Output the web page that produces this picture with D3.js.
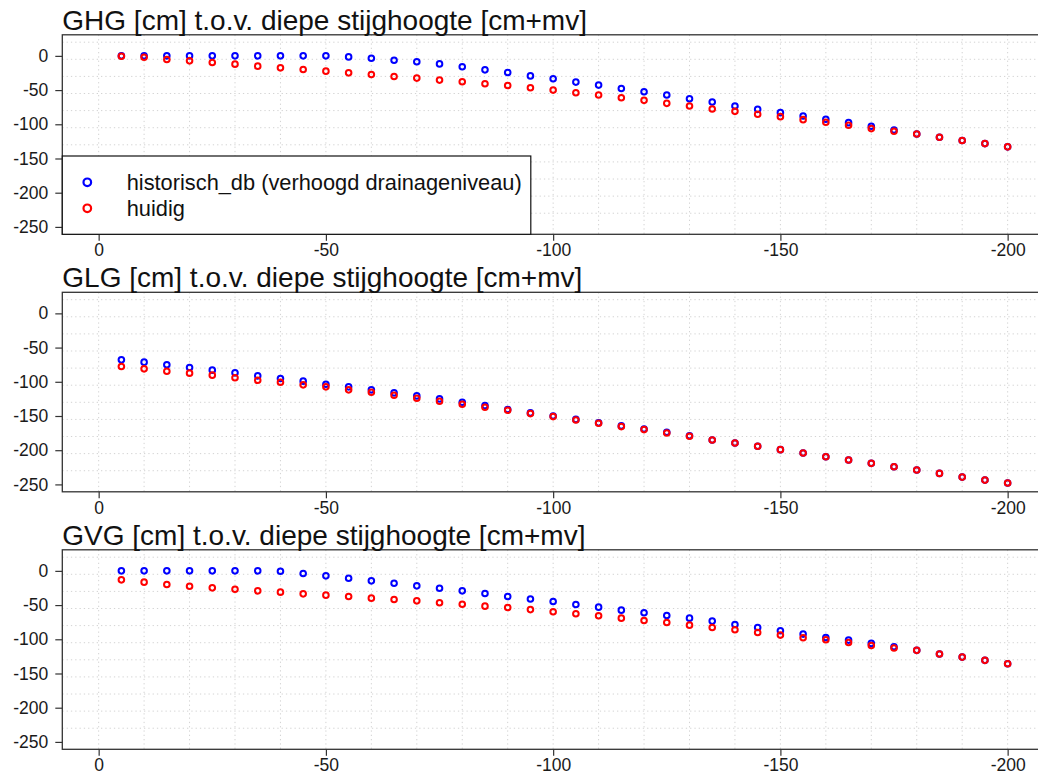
<!DOCTYPE html>
<html>
<head>
<meta charset="utf-8">
<script src="https://cdn.jsdelivr.net/npm/d3@7"></script>
<style>
  html, body { margin: 0; padding: 0; background: #fff; }
  svg { display: block; font-family: "Liberation Sans", Arial, sans-serif; }
</style>
</head>
<body>
<svg id="chart" width="1038" height="776"></svg>
<script>
// Depth of drainage level (cm), one point per 5 cm
const depths = [-5, -10, -15, -20, -25, -30, -35, -40, -45, -50,
  -55, -60, -65, -70, -75, -80, -85, -90, -95, -100,
  -105, -110, -115, -120, -125, -130, -135, -140, -145, -150,
  -155, -160, -165, -170, -175, -180, -185, -190, -195, -200];

const panelTitles = [
  "GHG [cm] t.o.v. diepe stijghoogte [cm+mv]",
  "GLG [cm] t.o.v. diepe stijghoogte [cm+mv]",
  "GVG [cm] t.o.v. diepe stijghoogte [cm+mv]"
];

const seriesNames = ["historisch_db (verhoogd drainageniveau)", "huidig"];

// GHG
const ghgHistorisch = [0, 0, 0, 0, 0, 0, 0, 0, 0, 0,
  -1.5, -3.4, -6.3, -8.7, -11.7, -16, -20.4, -24.3, -29.3, -33.5,
  -38.3, -42.7, -47.6, -52.4, -57.3, -62.6, -67.5, -73.3, -78.2, -83,
  -87.9, -92.7, -97.6, -102.9, -108.3, -114.1, -118.9, -123.8, -128.2, -133];
const ghgHuidig = [-0.5, -2, -5.3, -7.3, -9.7, -12.1, -15, -17.5, -20, -22.3,
  -24.8, -27.2, -30.1, -32.5, -35.4, -37.9, -40.8, -43.2, -46.6, -50,
  -53.9, -57.3, -61.2, -65, -69.4, -73.3, -77.7, -81.1, -85.4, -88.8,
  -93.2, -97.1, -101.5, -106.3, -110.2, -114.1, -118.9, -123.8, -128.2, -133];

// GLG
const glgHistorisch = [-67.9, -71.3, -75.2, -79.1, -83, -86.9, -91.3, -95.2, -99.1, -103.5,
  -107.4, -111.8, -116.2, -120.6, -125, -129.9, -134.8, -140.5, -145.5, -150,
  -155, -160, -164.5, -169, -173.8, -178.8, -185, -189.5, -194.3, -199.2,
  -204.1, -209.5, -214.4, -219.2, -224.1, -229, -233.9, -239.3, -243.7, -248];
const glgHuidig = [-77.6, -81.1, -84.5, -87.4, -90.3, -94.2, -97.7, -100.6, -104.5, -107.4,
  -111.8, -115.2, -119.6, -124, -128.4, -132.8, -137.2, -141.6, -146.5, -150.9,
  -155.8, -160.6, -165.5, -169.9, -174.8, -179.7, -185, -189.5, -194.3, -199.2,
  -204.1, -209.5, -214.4, -219.2, -224.1, -229, -233.9, -239.3, -243.7, -248];

// GVG
const gvgHistorisch = [0, 0, 0, 0, 0, 0, 0, -0.5, -3.9, -7.3,
  -10.7, -14.6, -18, -21.9, -25.3, -29.2, -33.1, -37.5, -41.1, -44.7,
  -49.1, -53, -57.4, -61.3, -65.2, -69.1, -73.4, -78.3, -82.7, -87.5,
  -92.4, -97.3, -101.2, -106, -110.9, -116.2, -121.6, -126, -130.8, -135.7];
const gvgHuidig = [-13.1, -16.5, -19.9, -22.4, -24.8, -26.8, -29.2, -31.1, -33.6, -35.5,
  -37.5, -39.9, -41.8, -43.8, -46.7, -48.7, -51.6, -53.6, -56.6, -59.8,
  -62.7, -65.7, -69.1, -72.5, -75.4, -79.3, -82.7, -86.1, -90, -93.9,
  -97.8, -100.7, -104.6, -109, -112.8, -116.2, -121.6, -126, -130.8, -135.7];

const xTicks = [0, -50, -100, -150, -200];
const yTicks = [0, -50, -100, -150, -200, -250];
const xGrid = [0, -10, -20, -30, -40, -50, -60, -70, -80, -90, -100,
  -110, -120, -130, -140, -150, -160, -170, -180, -190, -200];
const yGrid = [20, -5, -30, -55, -80, -105, -130, -155, -180, -205, -230];

const panels = [
  { title: panelTitles[0], series: [ghgHistorisch, ghgHuidig], legend: true },
  { title: panelTitles[1], series: [glgHistorisch, glgHuidig], legend: false },
  { title: panelTitles[2], series: [gvgHistorisch, gvgHuidig], legend: false }
];
const colors = ["#0000ff", "#ff0000"];

const svg = d3.select("#chart");
const left = 62.3, right = 1044;
const firstTop = 34.8, plotH = 199.5, step = 257.5;

// plain hyphen-minus labels
const fmt = d => String(d);

// x runs from 8 to -208 (range 0..-200 padded by 4%)
const x = d3.scaleLinear().domain([8, -208]).range([left, right]);

panels.forEach((p, i) => {
  const top = firstTop + i * step;
  const bottom = top + plotH;
  const y = d3.scaleLinear().domain([30.8, -260.8]).range([top, bottom]);
  const g = svg.append("g");

  // dotted grid
  g.append("g").selectAll("line").data(xGrid).join("line")
    .attr("x1", d => x(d)).attr("x2", d => x(d))
    .attr("y1", top).attr("y2", bottom)
    .attr("stroke", "#d3d3d3").attr("stroke-width", 1)
    .attr("stroke-dasharray", "1.3,3");
  g.append("g").selectAll("line").data(yGrid).join("line")
    .attr("x1", left).attr("x2", right)
    .attr("y1", d => y(d)).attr("y2", d => y(d))
    .attr("stroke", "#d3d3d3").attr("stroke-width", 1)
    .attr("stroke-dasharray", "1.3,3");

  // axes
  const yAxis = d3.axisLeft(y).tickValues(yTicks).tickSize(7).tickPadding(7)
    .tickFormat(fmt);
  const ya = g.append("g").attr("transform", `translate(${left},0)`).call(yAxis);
  ya.select(".domain").remove();

  const xAxis = d3.axisBottom(x).tickValues(xTicks).tickSize(6.5).tickPadding(3)
    .tickFormat(fmt);
  const xa = g.append("g").attr("transform", `translate(0,${bottom})`).call(xAxis);
  xa.select(".domain").remove();

  [ya, xa].forEach(a => {
    a.selectAll(".tick line").attr("stroke", "#333").attr("stroke-width", 1.2);
    a.selectAll(".tick text").attr("fill", "#1a1a1a")
      .style("font-size", "17.5px").style("font-family", "Liberation Sans, Arial, sans-serif");
  });

  // points: historisch first, huidig on top
  p.series.forEach((vals, s) => {
    g.append("g").selectAll("circle").data(vals).join("circle")
      .attr("cx", (d, j) => x(depths[j]))
      .attr("cy", d => y(d))
      .attr("r", 2.8)
      .attr("fill", "none")
      .attr("stroke", colors[s])
      .attr("stroke-width", 2);
  });

  // frame
  g.append("rect")
    .attr("x", left).attr("y", top)
    .attr("width", right - left).attr("height", plotH)
    .attr("fill", "none").attr("stroke", "#333").attr("stroke-width", 1.3);

  // title
  g.append("text")
    .attr("x", left).attr("y", top - 5)
    .attr("fill", "#111")
    .style("font-size", "28px")
    .text(p.title);

  if (p.legend) {
    const lg = g.append("g");
    const lgTop = 156;
    lg.append("rect")
      .attr("x", left).attr("y", lgTop)
      .attr("width", 468.5).attr("height", bottom - lgTop)
      .attr("fill", "#fff").attr("stroke", "#111").attr("stroke-width", 1.2);
    seriesNames.forEach((name, s) => {
      const cy = 182.3 + s * 26;
      lg.append("circle")
        .attr("cx", 87.3).attr("cy", cy).attr("r", 3.8)
        .attr("fill", "none").attr("stroke", colors[s]).attr("stroke-width", 2.2);
      lg.append("text")
        .attr("x", 126.7).attr("y", cy)
        .attr("dy", "0.35em")
        .attr("fill", "#111")
        .style("font-size", "21.8px")
        .text(name);
    });
  }
});
</script>
</body>
</html>
